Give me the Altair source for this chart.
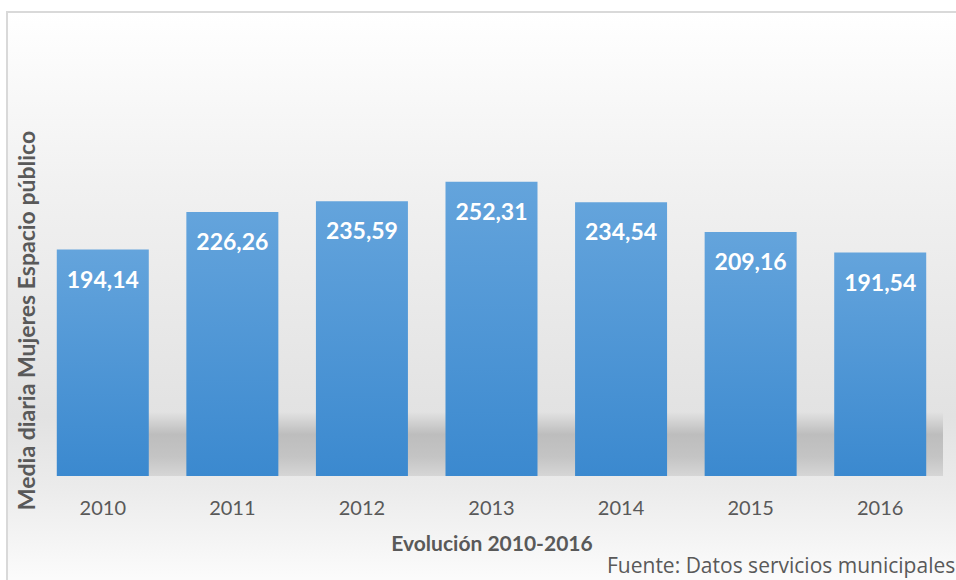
import altair as alt
import pandas as pd

years = ["2010", "2011", "2012", "2013", "2014", "2015", "2016"]
values = [194.14, 226.26, 235.59, 252.31, 234.54, 209.16, 191.54]
labels = [f"{v:.2f}".replace(".", ",") for v in values]

df = pd.DataFrame({"year": years, "value": values, "label": labels})

W, H = 907, 350
PL, PT = 38, 126
FONT = "Lato"

xscale = alt.Scale(paddingInner=0.29, paddingOuter=0.145)
yscale = alt.Scale(domain=[0, 300], nice=False)

one = pd.DataFrame({"a": [0]})

panel = alt.Chart(one).mark_rect(
    fill=alt.Gradient(
        gradient="linear", x1=0, x2=0, y1=0, y2=1,
        stops=[
            alt.GradientStop(offset=0, color="#ffffff"),
            alt.GradientStop(offset=0.3, color="#f1f1f1"),
            alt.GradientStop(offset=0.7, color="#e2e2e2"),
            alt.GradientStop(offset=0.82, color="#ebebeb"),
            alt.GradientStop(offset=1, color="#fdfdfd"),
        ],
    ),
    stroke="#d9d9d9", strokeWidth=2,
).encode(
    x=alt.value(7 - PL), x2=alt.value(956 - PL + 10),
    y=alt.value(12 - PT), y2=alt.value(580 - PT + 10),
)

shadow = alt.Chart(one).mark_rect(
    fill=alt.Gradient(
        gradient="linear", x1=0, x2=0, y1=0, y2=1,
        stops=[
            alt.GradientStop(offset=0, color="#e2e2e2"),
            alt.GradientStop(offset=0.35, color="#bdbdbd"),
            alt.GradientStop(offset=0.7, color="#c4c4c4"),
            alt.GradientStop(offset=1, color="#d6d6d6"),
        ],
    ),
).encode(
    x=alt.value(57 - PL), x2=alt.value(943 - PL),
    y=alt.value(412 - PT), y2=alt.value(H),
)

base = alt.Chart(df).encode(
    x=alt.X("year:N", scale=xscale, sort=years,
            axis=alt.Axis(title="Evolución 2010-2016", labelAngle=0, zindex=1,
                          domain=False, ticks=False, labelPadding=22,
                          labelFontSize=20, labelColor="#595959", labelFont=FONT,
                          titleFont=FONT, titleFontSize=21, titleColor="#595959",
                          titleFontWeight="bold", titlePadding=15)),
)

bars = base.mark_bar(
    fill=alt.Gradient(
        gradient="linear", x1=0, x2=0, y1=0, y2=1,
        stops=[
            alt.GradientStop(offset=0, color="#64a4dc"),
            alt.GradientStop(offset=1, color="#3b89cf"),
        ],
    ),
).encode(
    y=alt.Y("value:Q", scale=yscale,
            axis=alt.Axis(title="Media diaria Mujeres  Espacio público", zindex=1,
                          labels=False, ticks=False, domain=False, grid=False,
                          titleFont=FONT, titleFontSize=23, titleColor="#595959",
                          titleFontWeight="bold", titleX=27 - PL, titleY=320 - PT,
                          titleBaseline="middle", titleAngle=-90)),
)

text = base.mark_text(
    font=FONT, fontSize=23, fontWeight="bold", color="white",
    baseline="middle", dy=31,
).encode(y=alt.Y("value:Q", scale=yscale), text="label:N")

source = alt.Chart(one).mark_text(
    font="Open Sans", fontSize=21, color="#595959", align="left", baseline="middle",
).encode(
    x=alt.value(607 - PL), y=alt.value(567 - PT),
    text=alt.value("Fuente: Datos servicios municipales"),
)

chart = alt.layer(panel, shadow, bars, text, source).properties(
    width=W, height=H,
    autosize=alt.AutoSizeParams(type="none"),
    padding={"left": PL, "top": PT, "right": 956 - PL - W, "bottom": 580 - PT - H},
).configure_view(stroke=None).configure(background="white")

chart.save("out.html", embed_options={"renderer": "svg", "actions": False})
